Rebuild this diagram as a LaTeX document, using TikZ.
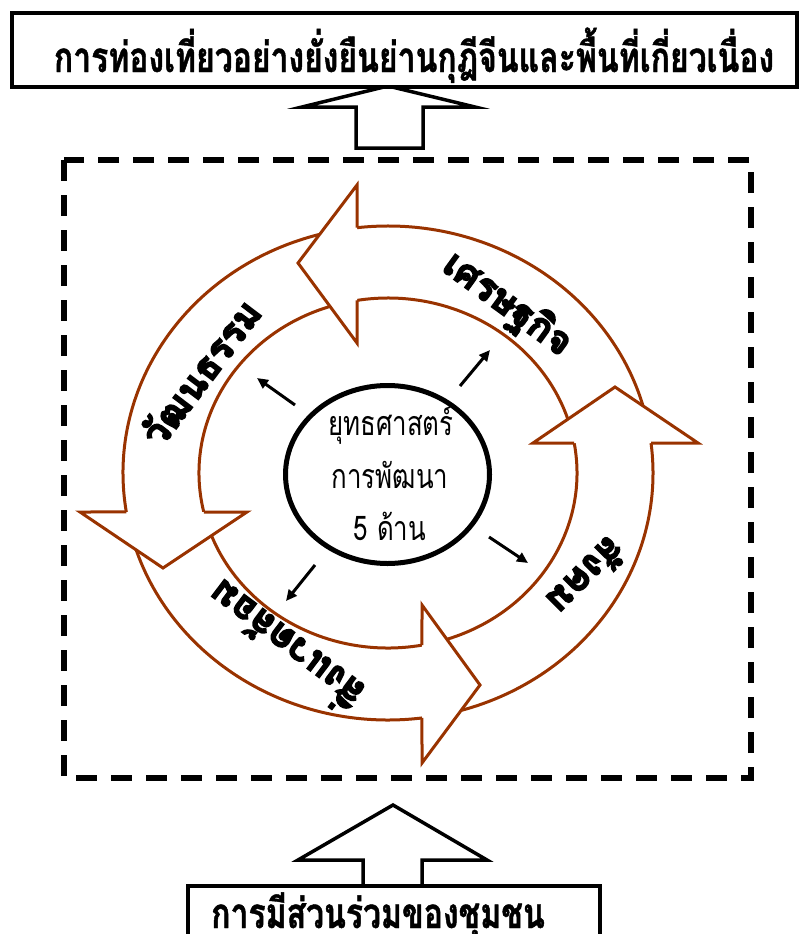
\documentclass[tikz,border=0pt]{standalone}
\usepackage{fontspec}
\newfontfamily\thaifont[Script=Thai, FakeStretch=0.76, BoldFeatures={FakeBold=1}]{Loma}
\newfontfamily\ringfont[Script=Thai, FakeBold=4]{Loma}
\usetikzlibrary{calc,arrows.meta,shapes.geometric}
\definecolor{ringbrown}{RGB}{153,51,0}
\tikzset{
  ring/.style={draw=ringbrown, line width=3pt},
  blockarrow/.style={draw=black, line width=3.5pt, fill=white, line join=miter},
  ptr/.style={line width=3pt, -{Triangle[length=11pt,width=10pt]}},
  ringlabel/.style={font=\ringfont\bfseries\fontsize{38}{42}\selectfont, inner sep=0pt},
  titletext/.style={font=\thaifont\bfseries\fontsize{42}{48}\selectfont, inner sep=0pt, anchor=base},
  centertext/.style={font=\thaifont\fontsize{34}{40}\selectfont, inner sep=0pt, anchor=base},
  boxframe/.style={draw=black, line width=3.5pt, fill=white},
  dashframe/.style={draw=black, line width=6pt, dash pattern=on 21pt off 14pt}
}
\newcommand\ringshaft[3]{%
  \draw[ring] ($(C)+(#1:265pt and 247pt)$) arc[start angle=#1, end angle=#2, x radius=265pt, y radius=247pt];
  \draw[ring] ($(C)+(#1:189pt and 175pt)$) arc[start angle=#1, end angle=#3, x radius=189pt, y radius=175pt];}
\newcommand\ringhead[5]{%
  \fill[white] #3 -- #4 -- #5 -- cycle;
  \draw[ring, line join=miter] ($(C)+(#1:265pt and 247pt)$) -- #3 -- #4 -- #5 -- ($(C)+(#2:189pt and 175pt)$);}
\begin{document}
\begin{tikzpicture}[x=1pt,y=1pt]
\useasboundingbox (0,0) rectangle (803,-934);
\coordinate (C) at (388,-473);
% dashed frame
\draw[dashframe] (64,-160) rectangle (751,-778);
% top block arrow and title box
\draw[blockarrow] (356,-148) -- (356,-107) -- (302,-107) -- (388,-86) -- (475,-107) -- (423,-107) -- (423,-148) -- cycle;
\node[boxframe, minimum width=785pt, minimum height=74pt, inner sep=0pt] (topbox) at (404.5,-50) {};
\node[titletext] (title) at (414,-72) {การท่องเที่ยวอย่างยั่งยืนย่านกุฎีจีนและพื้นที่เกี่ยวเนื่อง};
% bottom block arrow and box
\draw[blockarrow] (363,-886) -- (363,-860) -- (298,-860) -- (393,-805) -- (487,-860) -- (422,-860) -- (422,-886);
\node[boxframe, minimum width=412pt, minimum height=80pt, inner sep=0pt] (botbox) at (394,-926) {};
\node[titletext] (bottom) at (378,-928) {การมีส่วนร่วมของชุมชน};
% ring shafts
\ringshaft{14}{96.72}{99.44}
\ringshaft{103}{189.08}{192.88}
\ringshaft{196}{277.37}{280.36}
\ringshaft{284}{366.97}{369.87}
% ring heads
\ringhead{96.72}{99.44}{(357,-185)}{(298,-263)}{(357,-343)}
\ringhead{189.08}{192.88}{(80,-512)}{(163,-568)}{(247,-512)}
\ringhead{277.37}{280.36}{(422,-763)}{(480,-685)}{(422,-605)}
\ringhead{366.97}{369.87}{(698,-443)}{(615,-387)}{(533,-443)}
% ring labels
\node[ringlabel, rotate=53] (cult) at (200,-372) {วัฒนธรรม};
\node[ringlabel, rotate=-36] (econ) at (507,-305) {เศรษฐกิจ};
\node[ringlabel, rotate=-135] (soc) at (587,-577) {สังคม};
\node[ringlabel, rotate=143] (env) at (283,-648) {สิ่งแวดล้อม};
% centre
\node[draw, ellipse, line width=5pt, minimum width=204pt, minimum height=178pt, inner sep=0pt] (mid) at (387.5,-474.5) {};
\node[centertext] (m1) at (391,-435) {ยุทธศาสตร์};
\node[centertext] (m2) at (390,-488) {การพัฒนา};
\node[centertext] (m3) at (390,-540) {5 ด้าน};
\coordinate (a1s) at (295,-405); \coordinate (a1e) at (257,-378);
\coordinate (a2s) at (460,-386); \coordinate (a2e) at (490,-350);
\coordinate (a3s) at (489,-537); \coordinate (a3e) at (528,-563);
\coordinate (a4s) at (315,-565); \coordinate (a4e) at (286,-601);
\draw[ptr] (a1s) -- (a1e);
\draw[ptr] (a2s) -- (a2e);
\draw[ptr] (a3s) -- (a3e);
\draw[ptr] (a4s) -- (a4e);
\end{tikzpicture}
\end{document}
